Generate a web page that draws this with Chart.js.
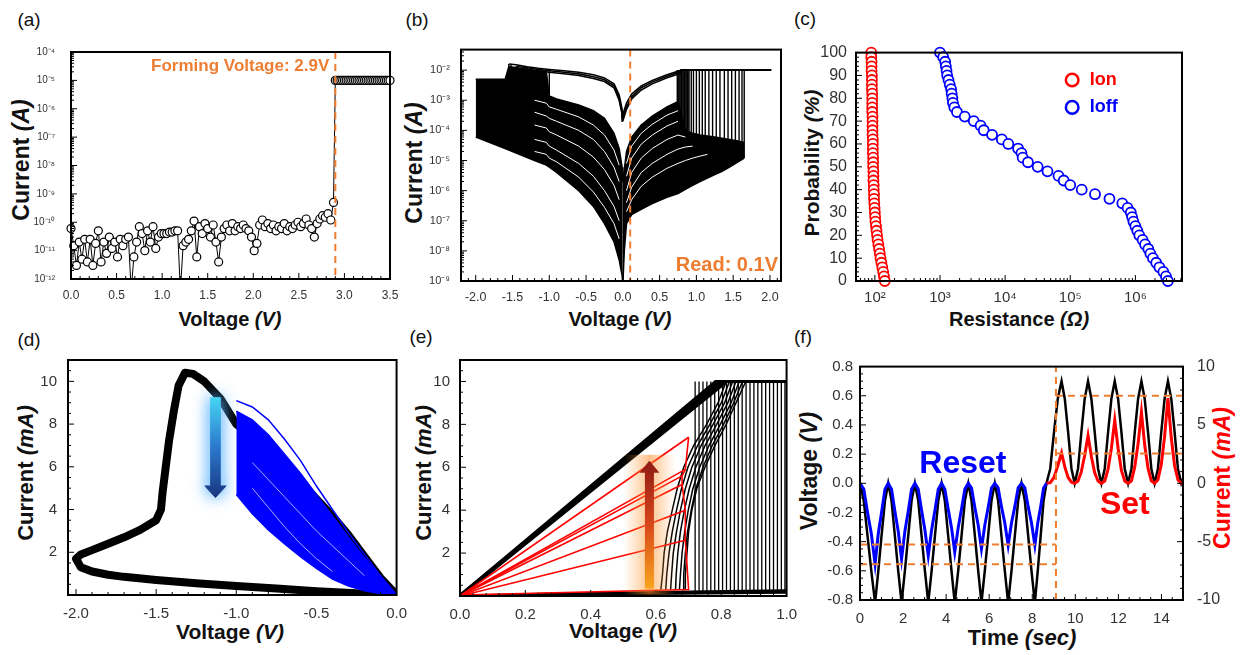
<!DOCTYPE html>
<html>
<head>
<meta charset="utf-8">
<title>Switching characteristics</title>
<script src="https://cdn.jsdelivr.net/npm/chart.js"></script>
<style>
  body { margin: 0; width: 1244px; height: 655px; position: relative; overflow: hidden; background: #fff;
         font-family: 'Liberation Sans', Arial, sans-serif; }
  canvas { position: absolute; }
  .lbl { position: absolute; white-space: nowrap; transform: translate(-50%, -50%); color: #111; }
  .ttl { font-weight: bold; }
  .rot { transform: translate(-50%, -50%) rotate(-90deg); }
</style>
</head>
<body>
<div class="lbl" style="left:29px;top:20px;font-size:19px">(a)</div>
<div class="lbl" style="left:417px;top:20px;font-size:19px">(b)</div>
<div class="lbl" style="left:805px;top:19px;font-size:19px">(c)</div>
<div class="lbl" style="left:29px;top:340px;font-size:19px">(d)</div>
<div class="lbl" style="left:421px;top:337px;font-size:19px">(e)</div>
<div class="lbl" style="left:803px;top:337px;font-size:19px">(f)</div>

<div class="lbl ttl" style="left:230px;top:319px;font-size:20px">Voltage <i>(V)</i></div>
<div class="lbl ttl rot" style="left:21px;top:160px;font-size:23px">Current <i>(A)</i></div>
<div class="lbl ttl" style="left:620px;top:319px;font-size:20px">Voltage <i>(V)</i></div>
<div class="lbl ttl rot" style="left:414px;top:163px;font-size:23px">Current <i>(A)</i></div>
<div class="lbl ttl" style="left:1019px;top:319px;font-size:20px">Resistance <i>(Ω)</i></div>
<div class="lbl ttl rot" style="left:812px;top:163px;font-size:21px">Probability <i>(%)</i></div>
<div class="lbl ttl" style="left:230px;top:632px;font-size:21px">Voltage <i>(V)</i></div>
<div class="lbl ttl rot" style="left:26px;top:473px;font-size:22px">Current <i>(mA)</i></div>
<div class="lbl ttl" style="left:623px;top:631px;font-size:21px">Voltage <i>(V)</i></div>
<div class="lbl ttl rot" style="left:424px;top:473px;font-size:22px">Current <i>(mA)</i></div>
<div class="lbl ttl" style="left:1022px;top:638px;font-size:22px">Time <i>(sec)</i></div>
<div class="lbl ttl rot" style="left:809px;top:471px;font-size:23px">Voltage <i>(V)</i></div>
<div class="lbl ttl rot" style="left:1222px;top:478px;font-size:23px;color:#f00">Current <i>(mA)</i></div>

<script>
// ---------- (a) forming sweep ----------
const aV = [0,0.03,0.06,0.09,0.12,0.15,0.18,0.21,0.24,0.27,
  0.3,0.33,0.36,0.39,0.42,0.45,0.48,0.51,0.54,0.57,
  0.6,0.63,0.66,0.69,0.72,0.75,0.78,0.81,0.84,0.87,
  0.9,0.93,0.96,0.99,1.02,1.05,1.08,1.11,1.14,1.17,
  1.2,1.23,1.26,1.29,1.32,1.35,1.38,1.41,1.44,1.47,
  1.5,1.53,1.56,1.59,1.62,1.65,1.68,1.71,1.74,1.77,
  1.8,1.83,1.86,1.89,1.92,1.95,1.98,2.01,2.04,2.07,
  2.1,2.13,2.16,2.19,2.22,2.25,2.28,2.31,2.34,2.37,
  2.4,2.43,2.46,2.49,2.52,2.55,2.58,2.61,2.64,2.67,
  2.7,2.73,2.76,2.79,2.82,2.85,2.88,
  2.9,
  2.92,2.94,2.96,2.98,3.0,3.02,3.04,3.06,3.08,3.1,
  3.12,3.14,3.16,3.18,3.2,3.22,3.24,3.26,3.28,3.3,
  3.32,3.34,3.36,3.38,3.4,3.42,3.44,3.46,3.48,3.5];
const aI = [6e-11,1.5e-11,3e-12,2e-11,5e-12,2.5e-11,4e-12,2.5e-11,3e-12,1.8e-11,
  5e-11,4e-12,2e-11,8e-12,3e-11,1.2e-11,2e-11,6e-12,2.5e-11,1.5e-11,
  2.5e-11,3e-11,4e-13,6e-12,2e-11,7e-11,4e-11,1e-11,5e-11,2e-11,
  7e-11,1.2e-11,3e-11,4e-11,4e-11,4e-11,4.5e-11,4.5e-11,5e-11,5e-11,
  4e-13,1.5e-11,2e-11,2.5e-11,5e-11,1.1e-10,6e-12,7e-11,4e-11,9e-11,
  6e-11,3e-11,8e-11,2e-11,4e-12,3e-11,6e-11,8e-11,5e-11,9e-11,
  5e-11,7e-11,6e-11,8e-11,6e-11,5e-11,3e-11,1e-11,1.8e-11,8e-11,
  1.2e-10,7e-11,9e-11,6e-11,8e-11,5e-11,7e-11,6e-11,9e-11,5e-11,
  7e-11,6e-11,8e-11,1e-10,7e-11,9e-11,1.3e-10,8e-11,6e-11,3e-11,
  9e-11,1.3e-10,1.7e-10,1.5e-10,2e-10,1.2e-10,5e-10,
  1e-5,
  1e-5,1e-5,1e-5,1e-5,1e-5,1e-5,1e-5,1e-5,1e-5,1e-5,
  1e-5,1e-5,1e-5,1e-5,1e-5,1e-5,1e-5,1e-5,1e-5,1e-5,
  1e-5,1e-5,1e-5,1e-5,1e-5,1e-5,1e-5,1e-5,1e-5,1e-5];
const aFormV = 2.9;
const aXTicks = [0, 0.5, 1, 1.5, 2, 2.5, 3, 3.5];
const aYTicks = [1e-12, 1e-11, 1e-10, 1e-9, 1e-8, 1e-7, 1e-6, 1e-5, 1e-4];

// ---------- (b) repeated I-V cycles ----------
const negV   = [-2.0, -1.6, -1.55, -1.2, -1.04, -1.0, -0.9, -0.6, -0.4, -0.25, -0.12, -0.05, -0.01, 0];
const negTop = [5e-3, 5e-3, 1.3e-2, 1e-2, 9e-3, 1.4e-3, 1.1e-3, 7e-4, 4.5e-4, 2.5e-4, 8e-5, 2.5e-5, 6e-6, 2e-6];
const negBot = [6e-5, 2.5e-5, 2.2e-5, 1e-5, 7e-6, 6e-6, 4e-6, 1e-6, 3e-7, 8e-8, 2e-8, 5e-9, 1.5e-9, 8e-10];
const negGaps = [
  [null, null, null, 1e-3, 8e-4, 6e-4, 5e-4, 2.8e-4, 1.5e-4, 7e-5, 2.2e-5, 7e-6, null, null],
  [null, null, null, 4e-4, 3e-4, 2.5e-4, 2e-4, 1e-4, 5e-5, 2e-5, 6e-6, 2e-6, null, null],
  [null, null, null, 1.5e-4, 1.2e-4, 9e-5, 7e-5, 3e-5, 1.3e-5, 5e-6, 1.5e-6, 5e-7, null, null],
  [null, null, null, 5e-5, 4e-5, 3e-5, 2.2e-5, 8e-6, 3e-6, 1e-6, 3e-7, 1e-7, null, null],
  [null, null, null, 2e-5, 1.6e-5, 1.2e-5, 9e-6, 2.8e-6, 9e-7, 2.8e-7, 8e-8, 2.5e-8, null, null]
];
const negLrsV = [0, -0.01, -0.05, -0.12, -0.25, -0.4, -0.6, -0.8, -1.0, -1.15, -1.3, -1.45, -1.55];
const negLrs = [
  [3e-4, 5e-4, 1.5e-3, 3.5e-3, 5.5e-3, 7e-3, 8.5e-3, 9.5e-3, 1.05e-2, 1.15e-2, 1.3e-2, 1.5e-2, 1.6e-2],
  [2.5e-4, 4e-4, 1.2e-3, 3e-3, 4.8e-3, 6e-3, 7.5e-3, 8.5e-3, 9.5e-3, 1.05e-2, 1.2e-2, 1.35e-2, null],
  [2e-4, 3.5e-4, 1e-3, 2.6e-3, 4.2e-3, 5.3e-3, 6.6e-3, 7.6e-3, 8.5e-3, 9.3e-3, null, null, null]
];
const resetV  = [-1.0, -1.15, -1.3, -1.45, -1.52, -1.55];
const resetHi = [1.05e-2, 9.3e-3, 1.2e-2, 1.35e-2, 1.5e-2, 1.6e-2];
const resetLo = [1.4e-3, 3e-3, 4e-3, 4e-3, 5e-3, 5e-3];
const posV   = [0, 0.02, 0.05, 0.12, 0.25, 0.4, 0.6, 0.75, 0.85, 0.95, 1.05, 1.15, 1.25, 1.35, 1.45, 1.55, 1.65];
const posTop = [2e-6, 5e-6, 2e-5, 6e-5, 1.5e-4, 3e-4, 6e-4, 9e-4, 1e-4, 8e-5, 7e-5, 6.5e-5, 6e-5, 5.5e-5, 5e-5, 4.5e-5, 4e-5];
const posBot = [8e-10, 1e-8, 8e-8, 1.6e-7, 2.4e-7, 3.7e-7, 6e-7, 8e-7, 1.1e-6, 1.5e-6, 2e-6, 2.6e-6, 3.4e-6, 4.4e-6, 6e-6, 8.5e-6, 1.2e-5];
const posGaps = [
  [null, null, 8e-6, 3e-5, 8e-5, 1.6e-4, 3.2e-4, 4.5e-4, null, null, null, null, null, null, null, null, null],
  [null, null, 3e-6, 1.2e-5, 3.5e-5, 7e-5, 1.4e-4, 2e-4, null, null, null, null, null, null, null, null, null],
  [null, null, 1e-6, 4e-6, 1.2e-5, 2.5e-5, 5e-5, 7e-5, 6e-5, null, null, null, null, null, null, null, null],
  [null, null, 4e-7, 1.3e-6, 4e-6, 8e-6, 1.6e-5, 2.4e-5, 2.8e-5, 3e-5, null, null, null, null, null, null, null],
  [null, null, 2e-7, 5e-7, 1.4e-6, 2.8e-6, 5.5e-6, 8e-6, 1e-5, 1.2e-5, 1.4e-5, 1.6e-5, null, null, null, null, null]
];
const posLrsV = [0, 0.01, 0.05, 0.12, 0.25, 0.4, 0.6, 0.8];
const posLrs = [
  [3e-4, 4e-4, 8e-4, 1.6e-3, 3e-3, 4.5e-3, 7e-3, 1e-2],
  [2.5e-4, 3e-4, 6e-4, 1.3e-3, 2.6e-3, 4e-3, 6.3e-3, 9e-3],
  [2e-4, 2.5e-4, 5e-4, 1.1e-3, 2.2e-3, 3.5e-3, 5.6e-3, 8e-3]
];
const compliance = 1e-2;
const complV = [0.78, 2.02];
const setV  = [0.74, 0.76, 0.78, 0.8, 0.82, 0.84, 0.86, 0.88, 0.9, 0.93, 0.96, 1.0, 1.04, 1.08, 1.12, 1.17, 1.22, 1.27, 1.32, 1.38, 1.43, 1.48, 1.53, 1.58, 1.62, 1.65];
const setLo = [9e-4, 6e-4, 4e-4, 2e-4, 1.5e-4, 1e-4, 9e-5, 8e-5, 7e-5, 7e-5, 6e-5, 6e-5, 5e-5, 5e-5, 5e-5, 4e-5, 4e-5, 4e-5, 3.5e-5, 3e-5, 3e-5, 2.5e-5, 2e-5, 2e-5, 1.8e-5, 1.2e-5];
const readV = 0.1;
const bXTicks = [-2, -1.5, -1, -0.5, 0, 0.5, 1, 1.5, 2];
const bYTicks = [1e-9, 1e-8, 1e-7, 1e-6, 1e-5, 1e-4, 1e-3, 1e-2];

// ---------- (c) cumulative resistance ----------
const cProb = [100,98,96,94,92,90,88,86,84,82,80,78,76,74,72,70,68,66,64,62,60,58,56,54,52,50,48,46,44,42,40,38,36,34,32,30,28,26,24,22,20,18,16,14,12,10,8,6,4,2,0];
const cIon  = [88,88,89,89,89,90,90,90,90,91,91,91,91,91,92,92,92,92,92,93,93,93,93,94,94,94,95,95,95,96,96,97,97,98,99,100,101,102,104,106,108,110,113,116,119,122,126,130,134,138,142];
const cIoff = [1000,1120,1200,1230,1260,1290,1350,1410,1480,1510,1550,1580,1660,1820,2400,3300,4200,4700,6300,8900,11200,15800,17800,18600,22400,31600,44700,66000,79400,100000,150000,240000,400000,630000,760000,851000,891000,933000,1000000,1070000,1150000,1290000,1410000,1580000,1700000,1860000,2090000,2340000,2690000,2950000,3160000];
const cXTicks = [1e2, 1e3, 1e4, 1e5, 1e6];
const cYTicks = [0, 10, 20, 30, 40, 50, 60, 70, 80, 90, 100];

// ---------- (d) reset I-V ----------
const dBlackV = [0, -0.1, -0.2, -0.3, -0.4, -0.5, -0.6, -0.7, -0.8, -0.9, -1.0, -1.1, -1.2, -1.27, -1.32, -1.36, -1.39, -1.42, -1.44, -1.46, -1.47, -1.5, -1.6, -1.7, -1.8, -1.9, -1.97, -2.0, -1.97, -1.9, -1.8, -1.7, -1.5, -1.25, -1.0, -0.75, -0.5, -0.25, 0];
const dBlackI = [0, 0.8, 1.8, 2.8, 3.7, 4.5, 5.3, 6.0, 6.7, 7.4, 8.0, 9.2, 10.0, 10.35, 10.4, 9.8, 8.6, 7.2, 6.0, 4.8, 4.0, 3.5, 3.05, 2.7, 2.4, 2.1, 1.9, 1.7, 1.3, 1.1, 0.95, 0.85, 0.7, 0.55, 0.42, 0.3, 0.18, 0.08, 0];
const dBlueV     = [-1.0, -0.9, -0.8, -0.7, -0.6, -0.5, -0.4, -0.3, -0.2, -0.1, 0];
const dBlueTop   = [9.1, 8.8, 8.2, 7.3, 6.3, 5.1, 4.0, 2.9, 1.9, 0.9, 0];
const dBlueUpper = [8.6, 8.2, 7.5, 6.6, 5.7, 4.7, 3.7, 2.7, 1.75, 0.85, 0];
const dBlueLower = [4.7, 3.8, 3.05, 2.4, 1.8, 1.25, 0.75, 0.42, 0.2, 0.06, 0];
const dBlueStreaks = [
  [null, 5.0, 4.1, 3.2, 2.4, 1.7, 1.1, null, null, null, null],
  [null, 6.2, 5.4, 4.6, 3.8, 3.0, 2.3, 1.6, 0.9, null, null]
];
const dArrowV = -1.13, dArrowFrom = 9.25, dArrowTo = 4.55;
const dXTicks = [-2, -1.5, -1, -0.5, 0];
const dYTicks = [2, 4, 6, 8, 10];

// ---------- (e) set I-V ----------
const eCompliance = 10;
const eLrsEndV = [0.785, 0.8, 0.815];
const eTopV = [0.78, 1.0];
const eHrsV = [0, 0.25, 0.5, 0.75, 1.0];
const eHrs = [[0, 0.05, 0.1, 0.14, 0.18], [0, 0.08, 0.14, 0.2, 0.25]];
const eFanI = [0.3, 1, 2, 3, 4, 5, 6, 7, 8, 9, 10];
const eFan = [
  [0.615, 0.62, 0.625, 0.635, 0.65, 0.665, 0.685, 0.715, 0.755, 0.79, 0.815],
  [0.63, 0.633, 0.64, 0.65, 0.663, 0.678, 0.698, 0.727, 0.765, 0.8, 0.825],
  [0.645, 0.648, 0.653, 0.663, 0.675, 0.69, 0.71, 0.738, 0.775, 0.81, 0.835],
  [0.66, 0.662, 0.667, 0.675, 0.687, 0.702, 0.722, 0.75, 0.786, 0.82, 0.845],
  [0.672, 0.675, 0.68, 0.688, 0.699, 0.713, 0.734, 0.762, 0.797, 0.83, 0.855],
  [0.683, 0.685, 0.69, 0.697, 0.708, 0.722, 0.744, 0.772, 0.807, 0.838, 0.865],
  [0.69, 0.69, 0.695, 0.7, 0.71, 0.725, 0.75, 0.78, 0.815, 0.845, 0.875]
];
const eSetV = [0.72, 0.732, 0.744, 0.756, 0.768, 0.78, 0.792, 0.804, 0.816, 0.828, 0.84, 0.852, 0.864, 0.876, 0.888, 0.9, 0.912, 0.924, 0.936, 0.948, 0.96, 0.972, 0.984, 0.995];
const eSetBase = 0.15;
const eRedEndV = [0.69, 0.69, 0.68, 0.68, 0.69, 0.70];
const eRedEndI = [2.6, 4.0, 5.2, 5.6, 5.9, 7.4];
const eRedStepV = [0, 0.7, 0.69, 0.69, 0.68, 0.68, 0.69, 0.70];
const eRedStepI = [0.05, 0.3, 2.6, 4.0, 5.2, 5.6, 5.9, 7.4];
const eArrowV = 0.58, eArrowFrom = 0.35, eArrowTo = 6.3;
const eXTicks = [0, 0.2, 0.4, 0.6, 0.8, 1.0];
const eYTicks = [2, 4, 6, 8, 10];

// ---------- (f) pulse train ----------
const fResetT = [0,0.175,0.35,0.525,0.7,0.85,1.0,1.16, 1.31,1.465,1.62,1.775,1.93,2.085,2.24,2.395,
  2.55,2.705,2.86,3.015,3.17,3.325,3.48,3.635, 3.79,3.94,4.095,4.25,4.4,4.56,4.715,4.87,
  5.03,5.18,5.335,5.49,5.64,5.795,5.95,6.105, 6.26,6.415,6.57,6.725,6.88,7.035,7.19,7.345,
  7.5,7.655,7.81,7.965,8.12,8.255,8.39,8.525, 8.66];
const fResetV = [0,-0.12,-0.36,-0.6,-0.82,-0.6,-0.36,-0.12, 0,-0.12,-0.36,-0.6,-0.82,-0.6,-0.36,-0.12,
  0,-0.12,-0.36,-0.6,-0.82,-0.6,-0.36,-0.12, 0,-0.12,-0.36,-0.6,-0.82,-0.6,-0.36,-0.12,
  0,-0.12,-0.36,-0.6,-0.82,-0.6,-0.36,-0.12, 0,-0.12,-0.36,-0.6,-0.82,-0.6,-0.36,-0.12,
  0,-0.12,-0.36,-0.6,-0.82,-0.6,-0.36,-0.12, 0];
const fResetI = [0,-0.5,-2.5,-4.3,-6.9,-4.3,-2.5,-0.5, 0,-0.5,-2.4,-4.1,-6.5,-4.1,-2.4,-0.5,
  0,-0.5,-2.3,-4.0,-6.2,-4.0,-2.3,-0.5, 0,-0.5,-2.2,-3.8,-5.9,-3.8,-2.2,-0.5,
  0,-0.4,-2.1,-3.6,-5.6,-3.6,-2.1,-0.4, 0,-0.4,-2.0,-3.4,-5.3,-3.4,-2.0,-0.4,
  0,-0.4,-2.0,-3.4,-5.3,-3.4,-2.0,-0.4, 0];
const fSetT = [8.66,8.835,9.01,9.185,9.36,9.51,9.665,9.82, 9.97,10.125,10.28,10.435,10.59,10.745,10.9,11.055,
  11.21,11.365,11.52,11.675,11.83,11.985,12.14,12.295, 12.45,12.605,12.76,12.915,13.07,13.22,13.375,13.53,
  13.68,13.835,13.99,14.145,14.3,14.455,14.61,14.765, 14.92, 15];
const fSetV = [0,0.1,0.35,0.58,0.7,0.58,0.35,0.1, 0,0.1,0.35,0.58,0.7,0.58,0.35,0.1,
  0,0.1,0.35,0.58,0.7,0.58,0.35,0.1, 0,0.1,0.35,0.58,0.7,0.58,0.35,0.1,
  0,0.1,0.35,0.58,0.7,0.58,0.35,0.1, 0, 0.03];
const fSetI = [0,0.05,0.5,1.5,2.6,1.4,0.5,0.1, 0,0.2,1.0,2.4,4.1,2.3,0.9,0.2,
  0,0.2,1.2,3.0,5.4,3.0,1.1,0.2, 0,0.2,1.4,3.4,6.1,3.3,1.3,0.2,
  0,0.3,1.6,4.0,7.3,3.9,1.5,0.3, 0, 0];
const fDashT = 9.1;
const fResetLevels = [-0.42, -0.555];
const fSetLevels = [0.6, 0.205];
const fXTicks = [0, 2, 4, 6, 8, 10, 12, 14];
const fYTicks = [-0.8, -0.6, -0.4, -0.2, 0, 0.2, 0.4, 0.6, 0.8];
const fY1Ticks = [-10, -5, 0, 5, 10];

// ---------- helpers ----------
Chart.defaults.font.family = "'Liberation Sans', Arial, sans-serif";
const ORANGE = '#ED7D31', RED = '#ff0000', BLUE = '#0000ff';
const SUP = { '-': '⁻', '0': '⁰', '1': '¹', '2': '²', '3': '³', '4': '⁴', '5': '⁵', '6': '⁶', '7': '⁷', '8': '⁸', '9': '⁹' };
const decLabel = v => '10' + String(Math.round(Math.log10(v))).replace(/./g, c => SUP[c]);
const fix1 = v => v.toFixed(1);
const pts = (xs, ys) => xs.map((x, i) => ({ x, y: ys[i] }));
const vLines = (xs, lo, hi) => xs.flatMap((x, i) => [
  { x, y: Array.isArray(lo) ? lo[i] : lo }, { x, y: Array.isArray(hi) ? hi[i] : hi }, { x, y: null }]);
const line = (data, color, width, extra) => Object.assign({
  data, showLine: true, borderColor: color, backgroundColor: color, borderWidth: width,
  pointRadius: 0, pointHoverRadius: 0, fill: false, tension: 0 }, extra || {});
const dashed = (data, order) => line(data, ORANGE, 2, { borderDash: [7, 5], order: order || 0 });

function axis(o) {
  return {
    type: o.log ? 'logarithmic' : 'linear',
    position: o.pos,
    min: o.min, max: o.max,
    grid: { display: false, drawTicks: false },
    border: { display: false },
    ticks: { font: { size: o.size }, color: o.color || '#333', padding: o.pad,
             autoSkip: false, maxRotation: 0, callback: o.fmt },
    afterBuildTicks: s => { s.ticks = o.ticks.map(v => ({ value: v })); },
    afterFit: s => { if (s.isHorizontal()) s.height = o.fit; else s.width = o.fit; }
  };
}

// box outline + inward major/minor ticks
function frame(minor) {
  return {
    id: 'frame',
    afterDatasetsDraw(chart) {
      const { ctx, chartArea: a, scales } = chart;
      ctx.save();
      ctx.strokeStyle = '#000';
      ctx.lineWidth = 1;
      for (const id in minor) {
        const s = scales[id];
        const lo = Math.min(s.min, s.max), hi = Math.max(s.min, s.max);
        const marks = [];
        if (s.type === 'logarithmic') {
          for (let e = Math.floor(Math.log10(lo)); e <= Math.ceil(Math.log10(hi)); e++)
            for (let k = 1; k < 10; k++) marks.push([k * Math.pow(10, e), k === 1]);
        } else {
          const vals = s.ticks.map(t => t.value);
          const step = vals[1] - vals[0], n = minor[id];
          for (let k = -n; k < 400; k++) {
            const v = vals[0] + k * step / n;
            if (v > hi + 1e-9) break;
            marks.push([v, k % n === 0]);
          }
        }
        for (const [v, major] of marks) {
          if (v < lo - 1e-9 || v > hi + 1e-9) continue;
          const p = s.getPixelForValue(v), len = major ? 6 : 3;
          ctx.beginPath();
          if (s.isHorizontal()) { ctx.moveTo(p, a.bottom); ctx.lineTo(p, a.bottom - len); }
          else if (s.position === 'right') { ctx.moveTo(a.right, p); ctx.lineTo(a.right - len, p); }
          else { ctx.moveTo(a.left, p); ctx.lineTo(a.left + len, p); }
          ctx.stroke();
        }
      }
      ctx.lineWidth = 2;
      ctx.strokeRect(a.left, a.top, a.right - a.left, a.bottom - a.top);
      ctx.restore();
    }
  };
}

function make(box, m, scales, datasets, minor, deco) {
  const cv = document.createElement('canvas');
  const w = box.r - box.l + m.l + m.r, h = box.b - box.t + m.t + m.b;
  cv.width = w; cv.height = h;
  cv.style.left = (box.l - m.l) + 'px';
  cv.style.top = (box.t - m.t) + 'px';
  cv.style.width = w + 'px'; cv.style.height = h + 'px';
  document.body.appendChild(cv);
  return new Chart(cv, {
    type: 'scatter',
    data: { datasets },
    options: {
      responsive: false, animation: false, devicePixelRatio: 1,
      layout: { autoPadding: false, padding: { left: 0, top: m.t, right: scales.y1 ? 0 : m.r, bottom: 0 } },
      plugins: { legend: { display: false }, tooltip: { enabled: false } },
      scales
    },
    plugins: [frame(minor), { id: 'deco', afterDatasetsDraw: deco || (() => {}) }]
  });
}

function text(ctx, s, x, y, font, color, align) {
  ctx.save();
  ctx.font = font; ctx.fillStyle = color;
  ctx.textAlign = align || 'center'; ctx.textBaseline = 'middle';
  ctx.fillText(s, x, y);
  ctx.restore();
}

function arrow(ctx, x, yTail, yTip, sw, hw, hl, fill, glow) {
  const dir = Math.sign(yTip - yTail), base = yTip - dir * hl;
  ctx.save();
  ctx.beginPath();
  ctx.moveTo(x - sw / 2, yTail); ctx.lineTo(x + sw / 2, yTail);
  ctx.lineTo(x + sw / 2, base); ctx.lineTo(x + hw / 2, base);
  ctx.lineTo(x, yTip); ctx.lineTo(x - hw / 2, base);
  ctx.lineTo(x - sw / 2, base); ctx.closePath();
  if (glow) { ctx.shadowColor = glow; ctx.shadowBlur = 16; ctx.fillStyle = fill; ctx.fill(); ctx.fill(); }
  ctx.shadowBlur = 0; ctx.fillStyle = fill; ctx.fill();
  ctx.restore();
}

// ---------- (a) ----------
make({ l: 71, r: 390, t: 42, b: 279 }, { l: 70, r: 22, t: 12, b: 30 }, {
  x: axis({ min: 0, max: 3.5, ticks: aXTicks, fmt: fix1, size: 12, pad: 9, fit: 30, pos: 'bottom' }),
  y: axis({ log: true, min: 1e-12, max: 1e-4, ticks: aYTicks, fmt: decLabel, size: 10, pad: 16, fit: 70, pos: 'left' })
}, [
  dashed(pts([aFormV, aFormV], [1e-4, 1e-12]), 0),
  line(pts(aV, aI), '#000', 1, { order: 1, pointRadius: 4, pointBackgroundColor: '#fff', pointBorderColor: '#000',
    pointBorderWidth: 1.2, clip: { left: 8, right: 8, top: 8, bottom: 0 } })
], { x: 5, y: 0 }, chart => {
  const x = chart.scales.x.getPixelForValue(aFormV) - 6, y = chart.scales.y.getPixelForValue(3.2e-5);
  text(chart.ctx, 'Forming Voltage: 2.9V', x, y, 'bold 17px "Liberation Sans", Arial', ORANGE, 'right');
});

// ---------- (b) ----------
const bSets = [];
bSets.push(line(pts(negV, negTop), '#000', 1.5, { fill: '+1', order: 20 }));
bSets.push(line(pts(negV, negBot), '#000', 1.5, { order: 20 }));
bSets.push(line(pts(posV, posTop), '#000', 1.5, { fill: '+1', order: 20 }));
bSets.push(line(pts(posV, posBot), '#000', 1.5, { order: 20 }));
negGaps.forEach(g => bSets.push(line(pts(negV, g), '#fff', 1, { order: 10 })));
posGaps.forEach(g => bSets.push(line(pts(posV, g), '#fff', 1, { order: 10 })));
negLrs.forEach(c => bSets.push(line(pts(negLrsV, c), '#000', 1.6, { order: 5 })));
posLrs.forEach(c => bSets.push(line(pts(posLrsV, c), '#000', 1.6, { order: 5 })));
bSets.push(line(vLines(resetV, resetLo, resetHi), '#000', 1.4, { order: 5 }));
bSets.push(line(vLines(setV, setLo, compliance), '#000', 1.4, { order: 5 }));
bSets.push(line(pts(complV, [compliance, compliance]), '#000', 2, { order: 5 }));
bSets.push(dashed(pts([readV, readV], [0.048, 1e-9]), 0));
make({ l: 461, r: 781, t: 44, b: 281 }, { l: 60, r: 20, t: 12, b: 30 }, {
  x: axis({ min: -2.2, max: 2.15, ticks: bXTicks, fmt: fix1, size: 12.5, pad: 9, fit: 30, pos: 'bottom' }),
  y: axis({ log: true, min: 1e-9, max: 0.048, ticks: bYTicks, fmt: decLabel, size: 11, pad: 11, fit: 60, pos: 'left' })
}, bSets, { x: 5, y: 0 }, chart => {
  const a = chart.chartArea, y = chart.scales.y.getPixelForValue(3.3e-9);
  text(chart.ctx, 'Read: 0.1V', a.right - 3, y, 'bold 20px "Liberation Sans", Arial', ORANGE, 'right');
});

// ---------- (c) ----------
const openDot = (data, color) => ({ data, showLine: false, pointRadius: 5, pointHoverRadius: 5, pointBorderWidth: 1.8,
  pointBorderColor: color, pointBackgroundColor: '#fff', borderColor: color, clip: false });
make({ l: 856, r: 1182, t: 46, b: 281 }, { l: 55, r: 20, t: 12, b: 30 }, {
  x: axis({ log: true, min: 51.3, max: 5.2e6, ticks: cXTicks, fmt: decLabel, size: 15, pad: 8, fit: 30, pos: 'bottom' }),
  y: axis({ min: 0, max: 100, ticks: cYTicks, fmt: v => String(v), size: 16, pad: 9, fit: 55, pos: 'left' })
}, [
  openDot(pts(cIon, cProb), RED),
  openDot(pts(cIoff, cProb), BLUE)
], { x: 0, y: 5 }, chart => {
  const { ctx, scales: { x, y } } = chart;
  [['Ion', RED, 88], ['Ioff', BLUE, 76]].forEach(([s, col, p]) => {
    ctx.save();
    ctx.strokeStyle = col; ctx.lineWidth = 2.5;
    ctx.beginPath(); ctx.arc(x.getPixelForValue(1.07e5), y.getPixelForValue(p), 6.3, 0, 2 * Math.PI); ctx.stroke();
    ctx.restore();
    text(ctx, s, x.getPixelForValue(2.0e5), y.getPixelForValue(p), 'bold 18px "Liberation Sans", Arial', col, 'left');
  });
});

// ---------- (d) ----------
make({ l: 68, r: 397, t: 352, b: 595 }, { l: 60, r: 20, t: 12, b: 30 }, {
  x: axis({ min: -2.05, max: 0, ticks: dXTicks, fmt: fix1, size: 15, pad: 10, fit: 30, pos: 'bottom' }),
  y: axis({ min: 0, max: 11, ticks: dYTicks, fmt: v => String(v), size: 15, pad: 11, fit: 60, pos: 'left' })
}, [
  line(pts(dBlueV, dBlueTop), BLUE, 1.5, { order: 2 }),
  ...dBlueStreaks.map(s => line(pts(dBlueV, s), 'rgba(200,200,255,0.85)', 1, { order: 3 })),
  line(pts(dBlueV, dBlueUpper), BLUE, 1.5, { fill: '+1', order: 4 }),
  line(pts(dBlueV, dBlueLower), BLUE, 1.5, { order: 4 }),
  line(pts(dBlackV, dBlackI), '#000', 8, { order: 9, borderJoinStyle: 'round', borderCapStyle: 'round' })
], { x: 5, y: 4 }, chart => {
  const { ctx, scales: { x, y } } = chart;
  const px = x.getPixelForValue(dArrowV), y0 = y.getPixelForValue(dArrowFrom), y1 = y.getPixelForValue(dArrowTo);
  const g = ctx.createLinearGradient(0, y0, 0, y1);
  g.addColorStop(0, '#45d4f2'); g.addColorStop(0.5, '#2b78cc'); g.addColorStop(1, '#1a3580');
  arrow(ctx, px, y0, y1, 10, 22, 12, g, 'rgba(90,180,255,0.9)');
});

// ---------- (e) ----------
const eSets = [];
eRedEndV.forEach((v, i) => eSets.push(line(pts([0, v], [0, eRedEndI[i]]), RED, 1.6, { order: 1 })));
eSets.push(line(pts(eRedStepV, eRedStepI), RED, 1.6, { order: 1 }));
eLrsEndV.forEach(v => eSets.push(line(pts([0, v], [0, eCompliance]), '#000', 4, { order: 5 })));
eSets.push(line(pts(eTopV, [eCompliance, eCompliance]), '#000', 3, { order: 5 }));
eHrs.forEach(c => eSets.push(line(pts(eHrsV, c), '#000', 3, { order: 5 })));
eFan.forEach(c => eSets.push(line(pts(c, eFanI), '#000', 1.5, { order: 6 })));
eSets.push(line(vLines(eSetV, eSetBase, eCompliance), '#000', 1.3, { order: 6 }));
make({ l: 460, r: 787, t: 353, b: 596 }, { l: 60, r: 20, t: 12, b: 30 }, {
  x: axis({ min: 0, max: 1, ticks: eXTicks, fmt: fix1, size: 15, pad: 10, fit: 30, pos: 'bottom' }),
  y: axis({ min: 0, max: 11, ticks: eYTicks, fmt: v => String(v), size: 15, pad: 10, fit: 60, pos: 'left' })
}, eSets, { x: 5, y: 4 }, chart => {
  const { ctx, scales: { x, y } } = chart;
  const px = x.getPixelForValue(eArrowV), y0 = y.getPixelForValue(eArrowFrom), y1 = y.getPixelForValue(eArrowTo);
  const gx = ctx.createLinearGradient(px - 26, 0, px + 26, 0);
  gx.addColorStop(0, 'rgba(255,160,60,0)'); gx.addColorStop(0.5, 'rgba(255,140,40,0.55)'); gx.addColorStop(1, 'rgba(255,160,60,0)');
  ctx.save(); ctx.fillStyle = gx; ctx.fillRect(px - 26, y1 - 6, 52, y0 - y1 + 12); ctx.restore();
  const g = ctx.createLinearGradient(0, y0, 0, y1);
  g.addColorStop(0, '#f7a51c'); g.addColorStop(0.5, '#d8461a'); g.addColorStop(1, '#8e1a14');
  arrow(ctx, px, y0, y1, 9, 20, 12, g, null);
});

// ---------- (f) ----------
make({ l: 860, r: 1183, t: 355, b: 600 }, { l: 60, r: 55, t: 12, b: 30 }, {
  x: axis({ min: 0, max: 15, ticks: fXTicks, fmt: v => String(v), size: 15, pad: 10, fit: 30, pos: 'bottom' }),
  y: axis({ min: -0.8, max: 0.8, ticks: fYTicks, fmt: fix1, size: 15, pad: 7, fit: 60, pos: 'left' }),
  y1: axis({ min: -10, max: 10, ticks: fY1Ticks, fmt: v => String(v), size: 16, pad: 14, fit: 55, pos: 'right' })
}, [
  dashed(pts([fDashT, fDashT], [-0.8, 0.8]), 0),
  ...fResetLevels.map(v => dashed(pts([0, fDashT], [v, v]), 0)),
  ...fSetLevels.map(v => dashed(pts([fDashT, 15], [v, v]), 0)),
  line(pts(fResetT, fResetI), BLUE, 3, { yAxisID: 'y1', order: 2 }),
  line(pts(fSetT, fSetI), RED, 3, { yAxisID: 'y1', order: 2 }),
  line(pts(fResetT, fResetV), '#000', 2.5, { order: 3 }),
  line(pts(fSetT, fSetV), '#000', 2.5, { order: 3 })
], { x: 4, y: 4, y1: 5 }, chart => {
  const { ctx, scales: { x, y } } = chart;
  text(ctx, 'Reset', x.getPixelForValue(4.78), y.getPixelForValue(0.134), 'bold 32px "Liberation Sans", Arial', BLUE);
  text(ctx, 'Set', x.getPixelForValue(12.3), y.getPixelForValue(-0.147), 'bold 32px "Liberation Sans", Arial', RED);
});
</script>
</body>
</html>
